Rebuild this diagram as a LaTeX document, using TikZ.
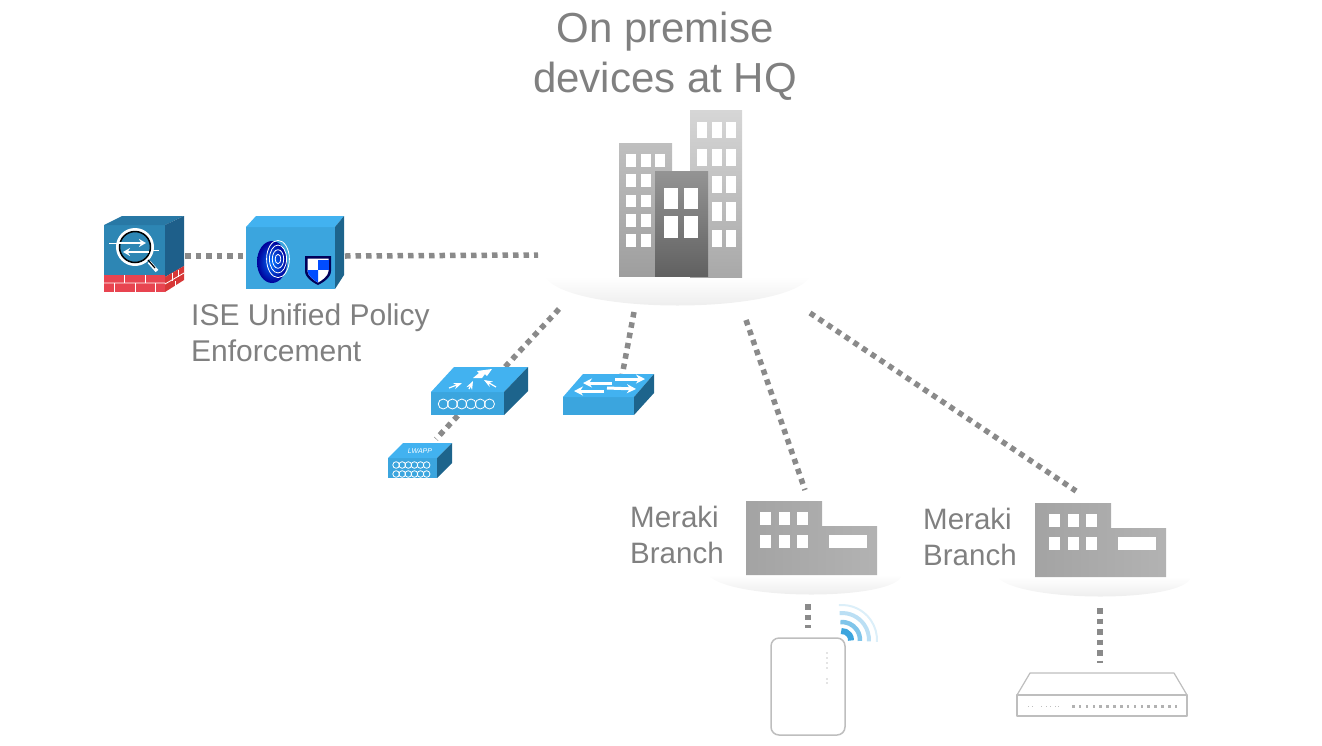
\documentclass[tikz,border=0pt]{standalone}
\usepackage{fontspec}
\setmainfont{Liberation Sans}
\usetikzlibrary{arrows.meta}
\definecolor{linkgray}{RGB}{138,138,138}
\definecolor{textgray}{RGB}{128,128,128}
\definecolor{faceblue}{RGB}{59,165,222}
\definecolor{topblue}{RGB}{66,178,240}
\definecolor{sideblue}{RGB}{29,100,140}
\definecolor{fwface}{RGB}{45,134,180}
\definecolor{fwtop}{RGB}{40,120,165}
\definecolor{fwside}{RGB}{30,95,138}
\definecolor{brickred}{RGB}{232,68,80}
\definecolor{brickdark}{RGB}{215,55,55}
\definecolor{wifiblue}{RGB}{60,165,222}
\definecolor{boxline}{RGB}{190,190,190}
\tikzset{
	link/.style={linkgray, line width=5.5pt, dash pattern=on 5.5pt off 5pt},
	txtlabel/.style={textgray, inner sep=0pt, align=left, font=\fontsize{29.5}{36}\selectfont},
	winpane/.style={fill=white},
	floorglow/.style={top color=white, bottom color=black!9, draw=none},
	branchsite/.pic={
		\shade[floorglow] (-38,74) .. controls (-15,100) and (150,100) .. (156,74) -- cycle;
		\shade[left color=black!36, right color=black!30] (0,0) -- (76,0) -- (76,25) -- (131,25) -- (131,74) -- (0,74) -- cycle;
		\foreach \wx in {14,33,51}
			\foreach \wy in {11,34}
				\fill[winpane] (\wx,\wy) rectangle ++(10.5,13);
		\fill[winpane] (83,34) rectangle ++(38,13);
	}
}
\newcommand\wavechain[4]{%
	\foreach \i in {1,...,#3}
		\draw[white, line width=0.8pt] (#1+\i*1.85*#4,#2) circle (#4);
}
\begin{document}
\begin{tikzpicture}[x=1pt, y=-1pt, line join=round, line cap=butt, >=Stealth]
	\useasboundingbox (0,0) rectangle (1322,745);
	% link ends
	\coordinate (fwR) at (185,256);
	\coordinate (iseL) at (245,256);
	\coordinate (iseR) at (345,256);
	\coordinate (hqW) at (538,255);
	\coordinate (hqSW) at (559,309);
	\coordinate (wlcN) at (505,367);
	\coordinate (wlcS) at (465,408);
	\coordinate (lapN) at (436,439);
	\coordinate (hqS) at (634,312);
	\coordinate (swN) at (622,376);
	\coordinate (hqSE) at (746,320);
	\coordinate (brAN) at (805,490);
	\coordinate (hqE) at (810,313);
	\coordinate (brBN) at (1076,491);
	\coordinate (brAS) at (808,604);
	\coordinate (mapN) at (808,628);
	\coordinate (brBS) at (1100,608);
	\coordinate (mxN) at (1100,663);
	\coordinate (wifi) at (842,640);
	% links
	\draw[link] (fwR)--(iseL);
	\draw[link] (iseR)--(hqW);
	\draw[link] (hqSW)--(wlcN);
	\draw[link] (wlcS)--(lapN);
	\draw[link] (hqS)--(swN);
	\draw[link] (hqSE)--(brAN);
	\draw[link] (hqE)--(brBN);
	\draw[link] (brAS)--(mapN);
	\draw[link] (brBS)--(mxN);
	% texts
	\node[txtlabel, align=center, font=\fontsize{42}{50}\selectfont] (title) at (665,56) {On premise\\devices at HQ};
	\node[txtlabel, anchor=west, font=\fontsize{30}{36}\selectfont] (iseText) at (191,333) {ISE Unified Policy\\Enforcement};
	\node[txtlabel, anchor=west] (brAText) at (630,535) {Meraki\\Branch};
	\node[txtlabel, anchor=west] (brBText) at (923,537) {Meraki\\Branch};
	% HQ
	\shade[floorglow] (545,277) .. controls (570,315) and (785,315) .. (810,277) -- cycle;
	\shade[top color=black!16, bottom color=black!34] (690,110) rectangle (742,277);
	\shade[top color=black!25, bottom color=black!38] (619,143) rectangle (672,276);
	\foreach \wx/\wy/\wh in {697/122/16,712/122/16,726/122/16,697/149/17,712/149/17,726/149/17,712/176/17,726/176/17,712/202/19,726/202/19,712/230/17,726/230/17,
		626/154/13,641/154/13,655/154/13,626/174/13,641/174/13,626/195/12,641/195/12,626/214/13,641/214/13,626/234/13,641/234/13}
		\fill[winpane] (\wx,\wy) rectangle ++(10,\wh);
	\shade[top color=black!42, bottom color=black!62] (655,171) rectangle (708,276);
	\foreach \wx/\wy in {664/188,684/188}
		\fill[winpane] (\wx,\wy) rectangle ++(14,21);
	\foreach \wx/\wy in {664/216,684/216}
		\fill[winpane] (\wx,\wy) rectangle ++(14,22);
	% firewall
	\fill[fwface] (104,225) rectangle (165,276);
	\fill[fwtop] (104,225)--(122,216)--(184,216)--(165,225)--cycle;
	\fill[fwside] (165,225)--(184,216)--(184,266)--(165,277)--cycle;
	\fill[brickred] (104,275) rectangle (165,292);
	\fill[brickdark] (165,277)--(184,266)--(184,280)--(165,292)--cycle;
	\draw[white, line width=0.8pt] (104,283)--(165,283) (165,284)--(184,273);
	\foreach \bx in {124,145}
		\draw[white, line width=0.8pt] (\bx,275)--(\bx,283);
	\foreach \bx in {114,135,155}
		\draw[white, line width=0.8pt] (\bx,283)--(\bx,292);
	\draw[white, line width=0.8pt] (172,273)--(172,281) (178,270)--(178,277) (175,281)--(175,289);
	\draw[white, line width=3pt] (135,247) circle (17.5);
	\draw[black, line width=1.5pt] (135,247) circle (15.5);
	\draw[white, line width=1pt] (109,243)--(119,243) (151,250)--(159,250);
	\draw[white, line width=3.5pt] (149,262)--(157,271);
	\draw[black, line width=1.2pt] (148,260)--(155,268);
	\draw[white, line width=2.5pt, -{Stealth[length=7pt,width=8pt]}] (119,243)--(146,243);
	\draw[white, line width=2.5pt, -{Stealth[length=7pt,width=8pt]}] (149,252)--(123,252);
	% ISE
	\fill[faceblue] (246,227) rectangle (335,289);
	\fill[topblue] (246,227)--(256,216)--(344,216)--(335,227)--cycle;
	\fill[sideblue] (335,227)--(344,216)--(344,275)--(335,289)--cycle;
	\shade[inner color=blue!55!cyan, outer color=blue!60!black] (272,262) ellipse (15 and 21);
	\foreach \r in {3,6,9,12}
		\draw[white, line width=0.8pt] (278,259) ellipse (\r*0.95 and \r*1.55);
	\fill[blue!35!black] (305,256)--(331,256)--(331,271) .. controls (331,278) and (322,283) .. (318,285) .. controls (314,283) and (305,278) .. (305,271) -- cycle;
	\fill[white] (307.5,258.5)--(328.5,258.5)--(328.5,271) .. controls (328.5,276) and (321,281) .. (318,282.5) .. controls (315,281) and (307.5,276) .. (307.5,271) -- cycle;
	\fill[blue!70!cyan] (318,260) rectangle (328.5,270);
	\fill[blue!70!cyan] (307.5,270) -- (318,270) -- (318,282.5) .. controls (315,281) and (307.5,276) .. (307.5,271) -- cycle;
	% wireless controller
	\fill[faceblue] (431,392) rectangle (504,415);
	\fill[topblue] (431,392)--(454,367)--(528,367)--(504,392)--cycle;
	\fill[sideblue] (504,392)--(528,367)--(528,391)--(504,415)--cycle;
	\fill[white] (473,378)--(479,373)--(477,371)--(492,369)--(487,376)--(485,374)--(482,378)--cycle;
	\draw[white, line width=1.2pt, ->] (449,388)--(462,383);
	\draw[white, line width=1.2pt, ->] (469,389)--(473,381);
	\draw[white, line width=1.2pt, ->] (496,387)--(484,380);
	\wavechain{434}{404}{6}{5}
	% switch
	\fill[faceblue] (563,397) rectangle (634,415);
	\fill[topblue] (563,397)--(583,374)--(654,374)--(634,397)--cycle;
	\fill[sideblue] (634,397)--(654,374)--(654,393)--(634,415)--cycle;
	\draw[white, line width=3pt, -{Stealth[length=9pt,width=9pt]}] (612,383)--(583,383);
	\draw[white, line width=3pt, -{Stealth[length=9pt,width=9pt]}] (615,379)--(645,379);
	\draw[white, line width=3pt, -{Stealth[length=9pt,width=9pt]}] (604,391)--(574,391);
	\draw[white, line width=3pt, -{Stealth[length=9pt,width=9pt]}] (607,388)--(636,389);
	% access point
	\fill[faceblue] (388,458) rectangle (437,478);
	\fill[topblue] (388,458)--(403,443)--(452,443)--(437,458)--cycle;
	\fill[sideblue] (437,458)--(452,443)--(452,463)--(437,478)--cycle;
	\node[white, inner sep=0pt, font=\fontsize{7}{7}\selectfont\itshape] (lwappText) at (420,451) {LWAPP};
	\wavechain{390}{465}{6}{3.3}
	\wavechain{390}{474}{6}{3.3}
	% branches
	\pic at (746,501) {branchsite};
	\pic at (1035,503) {branchsite};
	% meraki ap
	\draw[boxline, line width=1.5pt, fill=white, rounded corners=8pt] (771,638) rectangle (845,735);
	\foreach \ly in {653,658,663,668,679,683}
		\fill[black!45] (827,\ly) circle (0.6);
	\foreach \r/\wd/\op in {35/2/18,27/4/35,18/4.5/65,9/6/100}
		\draw[wifiblue!\op, line width=\wd pt] ([shift={(95:\r pt)}]wifi) arc[start angle=95, end angle=-3, radius=\r pt];
	% meraki mx
	\draw[boxline, line width=1.2pt, fill=white] (1017,695)--(1030,673)--(1174,673)--(1187,695)--cycle;
	\draw[boxline, line width=1.2pt, fill=white] (1017,695) rectangle (1187,716);
	\foreach \i in {0,...,15}
		\fill[black!30] (1072+\i*6.85,705) rectangle ++(2.6,2.6);
	\foreach \px in {1028,1032,1041,1046,1050,1055,1058}
		\fill[black!25] (\px,705.5) rectangle ++(1.3,1.5);
\end{tikzpicture}
\end{document}
